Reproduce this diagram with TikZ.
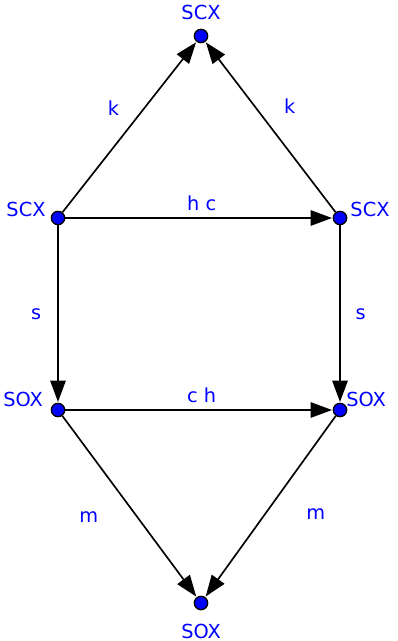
\documentclass[tikz,border=0pt]{standalone}
\usepackage{fontspec}
\setmainfont{DejaVu Sans}
\usepackage{xcolor}
\usepackage{tikz}
\usetikzlibrary{positioning,arrows.meta}
\tikzset{
  line/.style={-{Triangle[length=16pt,width=11.5pt]}, line width=1.25pt, draw=black, shorten >=0.5pt},
  every node/.style={anchor=center}
}

\begin{document}
\begin{tikzpicture}[
  x=0.75pt, y=-0.75pt,
  font=\fontsize{14.5}{17}\selectfont,
  dot/.style={circle, draw=black, fill=blue, line width=1pt, minimum size=10pt, inner sep=0pt},
  ptname/.style={text=blue, inner sep=1pt},
  lbl/.style={text=blue, inner sep=1pt}
]
\useasboundingbox (0,0) rectangle (398,641);

% points
\node[dot] (top) at (201,36) {};
\node[dot] (lscx) at (58,218) {};
\node[dot] (rscx) at (340,218) {};
\node[dot] (lsox) at (58,410) {};
\node[dot] (rsox) at (340,410) {};
\node[dot] (bot) at (201,603) {};

% names
\node[ptname] (topName) at (201,12) {SCX};
\node[ptname] (lscxName) at (26,209) {SCX};
\node[ptname] (rscxName) at (370,209) {SCX};
\node[ptname] (lsoxName) at (23,399) {SOX};
\node[ptname] (rsoxName) at (366,399) {SOX};
\node[ptname] (botName) at (201,631) {SOX};

% edges
\draw[line] (lscx) -- node[lbl, pos=0.5, xshift=-12pt, yshift=14pt] {k} (top);
\draw[line] (rscx) -- node[lbl, pos=0.5, xshift=14.5pt, yshift=16pt] {k} (top);
\draw[line] (lscx) -- node[lbl, above=4pt, xshift=2pt] {h c} (rscx);
\draw[line] (lscx) -- node[lbl, left=11pt] {s} (lsox);
\draw[line] (rscx) -- node[lbl, right=10pt] {s} (rsox);
\draw[line] (lsox) -- node[lbl, above=4pt, xshift=2pt] {c h} (rsox);
\draw[line] (lsox) -- node[lbl, pos=0.5, xshift=-30.5pt, yshift=-8pt] {m} (bot);
\draw[line] (rsox) -- node[lbl, pos=0.5, xshift=34pt, yshift=-5.5pt] {m} (bot);
\end{tikzpicture}
\end{document}
